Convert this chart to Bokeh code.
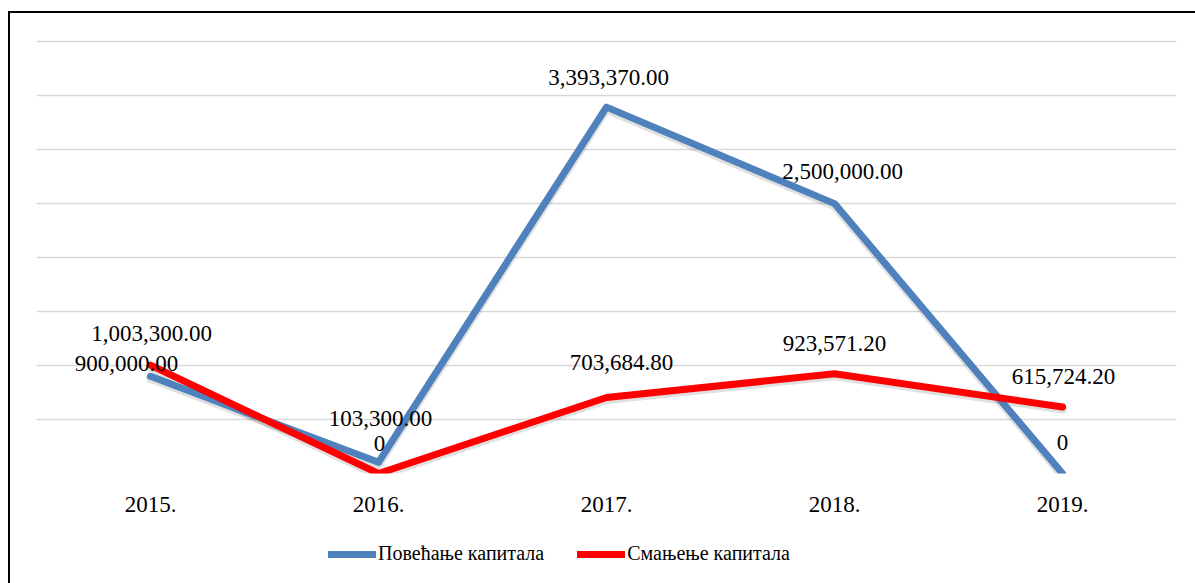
from bokeh.plotting import figure
from bokeh.layouts import column
from bokeh.models import ColumnDataSource, Legend, LegendItem, FixedTicker, Range1d, FactorRange
from bokeh.embed import file_html
from bokeh.resources import INLINE
from bokeh.core.properties import value

years = ["2015.", "2016.", "2017.", "2018.", "2019."]
increase = [900000.00, 103300.00, 3393370.00, 2500000.00, 0]
decrease = [1003300.00, 0, 703684.80, 923571.20, 615724.20]
increase_labels = ["900,000.00", "103,300.00", "3,393,370.00", "2,500,000.00", "0"]
decrease_labels = ["1,003,300.00", "0", "703,684.80", "923,571.20", "615,724.20"]
name_inc = "Повећање капитала"
name_dec = "Смањење капитала"

# label offsets (pixels, styling only)
inc_dx = [-24, 2, 2, 8, 0]
inc_dy = [-13, -44, -30, -32, -31]
dec_dx = [1, 1, 15, 0, 1]
dec_dy = [-32, -30, -35, -30, -31]

FONT = "Liberation Serif"
BLUE = "#4F81BD"
RED = "#FF0000"

src_inc = ColumnDataSource(dict(x=years, y=increase, t=increase_labels, dx=inc_dx, dy=inc_dy))
src_dec = ColumnDataSource(dict(x=years, y=decrease, t=decrease_labels, dx=dec_dx, dy=dec_dy))

p = figure(x_range=FactorRange(*years, range_padding=0), y_range=Range1d(0, 4020000),
           width=1185, height=505, output_backend="svg", toolbar_location=None,
           min_border_left=26, min_border_right=19, min_border_top=26, min_border_bottom=45,
           outline_line_color=None, background_fill_color="white", border_fill_color="white")

p.yaxis.visible = False
p.ygrid.ticker = FixedTicker(ticks=[i * 500000 for i in range(9)])
p.ygrid.grid_line_color = "#d9d9d9"
p.ygrid.grid_line_width = 1.5
p.xgrid.grid_line_color = None

ax = p.xaxis[0]
ax.axis_line_color = None
ax.major_tick_line_color = None
ax.minor_tick_line_color = None
ax.major_label_text_font = FONT
ax.major_label_text_font_size = "23px"
ax.major_label_text_color = "black"
ax.major_label_standoff = 17

# soft shadow under the lines
p.extra_y_ranges = {"shadow": Range1d(18500, 4038500)}
for src in (src_inc, src_dec):
    p.line("x", "y", source=src, y_range_name="shadow", line_color="#000000", line_alpha=0.12,
           line_width=9, line_cap="round", line_join="round")

l_inc = p.line("x", "y", source=src_inc, line_color=BLUE, line_width=7, line_cap="round", line_join="round")
l_dec = p.line("x", "y", source=src_dec, line_color=RED, line_width=7, line_cap="round", line_join="round")

for src in (src_inc, src_dec):
    p.text("x", "y", text="t", source=src, x_offset="dx", y_offset="dy",
           text_align="center", text_baseline="middle", text_font=value(FONT),
           text_font_size="23px", text_color="black")

# legend strip below the chart (series drawn off-range, only their legend keys show)
p2 = figure(x_range=p.x_range, y_range=Range1d(-20000000, -19000000), width=1185, height=65,
            output_backend="svg", toolbar_location=None,
            min_border_left=0, min_border_right=0, min_border_top=0, min_border_bottom=0,
            outline_line_color=None, background_fill_color="white", border_fill_color="white")
p2.axis.visible = False
p2.grid.visible = False
k_inc = p2.line(years, increase, line_color=BLUE, line_width=7, line_cap="round")
k_dec = p2.line(years, decrease, line_color=RED, line_width=7, line_cap="round")

legend = Legend(items=[LegendItem(label=name_inc, renderers=[k_inc]),
                       LegendItem(label=name_dec, renderers=[k_dec])],
                orientation="horizontal", location=(292, 18),
                label_text_font=FONT, label_text_font_size="20px", label_text_color="black",
                glyph_width=48, glyph_height=20, label_standoff=2, spacing=33,
                border_line_color=None, background_fill_alpha=0, padding=4, margin=0)
p2.add_layout(legend)

layout = column(p, p2, spacing=0,
                styles={"border-top": "2px solid black", "border-left": "2px solid black",
                        "margin-top": "11px", "margin-left": "8px"})

open("out.html", "w").write(file_html(layout, INLINE))
